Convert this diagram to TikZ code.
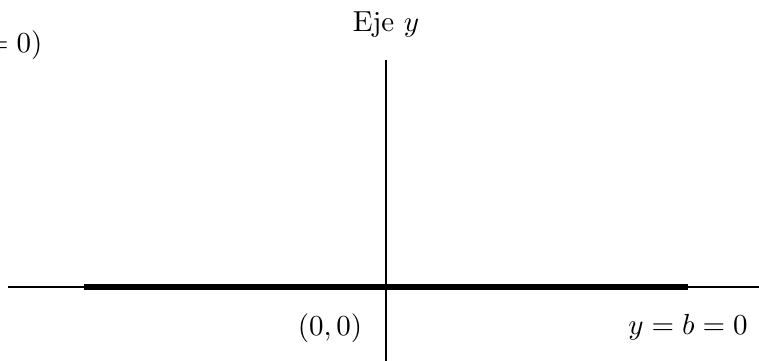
\documentclass[tikz,border=0pt]{standalone}
\begin{document}
\begin{tikzpicture}[x=0.345pt,y=-0.345pt,
  axisline/.style={line width=0.7pt},
  segline/.style={line width=2.1pt},
  lbl/.style={inner sep=0pt}]
\useasboundingbox (0,0) rectangle (759,360);
\clip (0,0) rectangle (759,360);
\coordinate (xl) at (8,287);
\coordinate (xr) at (770,287);
\coordinate (sl) at (84,287);
\coordinate (sr) at (688,287);
\coordinate (yt) at (386,60);
\coordinate (yb) at (386,370);
\draw[axisline] (xl) -- (xr);
\draw[segline] (sl) -- (sr);
\draw[axisline] (yt) -- (yb);
\node[lbl, anchor=base] (ejey) at (386,31) {Eje $y$};
\node[lbl, anchor=base] (origen) at (330,335) {$(0,0)$};
\node[lbl, anchor=base] (recta) at (688,334) {$y=b=0$};
\node[lbl, anchor=base east] (topl) at (43,52) {$(x=0)$};
\end{tikzpicture}
\end{document}
